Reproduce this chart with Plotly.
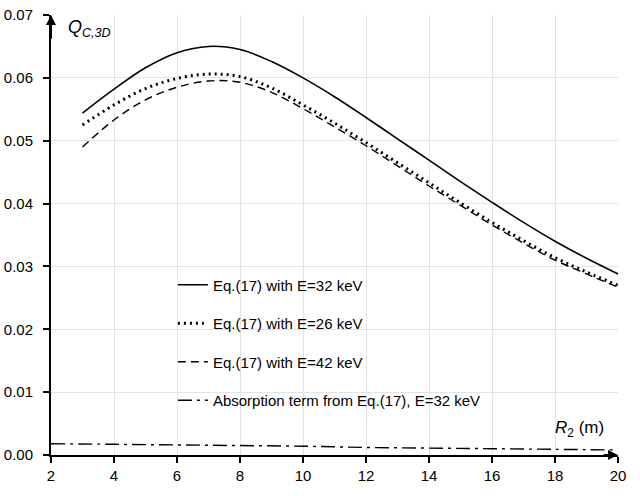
import plotly.graph_objects as go

x_main = [3, 4, 5, 6, 7, 8, 9, 10, 11, 12, 13, 14, 15, 16, 17, 18, 19, 20]
q_32 = [0.0544, 0.0582, 0.0616, 0.0640, 0.0650, 0.0645, 0.0626, 0.0600, 0.0570, 0.0537,
        0.0503, 0.0469, 0.0435, 0.0402, 0.0370, 0.0340, 0.0313, 0.0288]
q_26 = [0.0525, 0.0557, 0.0583, 0.0599, 0.0606, 0.0602, 0.0584, 0.0557, 0.0528, 0.0497,
        0.0465, 0.0433, 0.0401, 0.0370, 0.0341, 0.0314, 0.0291, 0.0270]
q_42 = [0.0490, 0.0533, 0.0565, 0.0585, 0.0595, 0.0593, 0.0577, 0.0551, 0.0522, 0.0492,
        0.0460, 0.0428, 0.0397, 0.0366, 0.0337, 0.0310, 0.0288, 0.0267]
x_abs = [2, 4, 6, 8, 10, 12, 14, 16, 18, 20]
q_abs = [0.0018, 0.0017, 0.0016, 0.0015, 0.0014, 0.0012, 0.0011, 0.0010, 0.0009, 0.0008]

names = ["Eq.(17) with E=32 keV", "Eq.(17) with E=26 keV",
         "Eq.(17) with E=42 keV", "Absorption term from Eq.(17), E=32 keV"]

fig = go.Figure()
fig.add_trace(go.Scatter(x=x_main, y=q_32, mode="lines", name=names[0], legendgroup="a",
                         line=dict(color="black", width=1.6, shape="spline")))
fig.add_trace(go.Scatter(x=x_main, y=q_26, mode="lines", name=names[1], legendgroup="b",
                         line=dict(color="black", width=3, shape="spline", dash="2px,4px")))
fig.add_trace(go.Scatter(x=x_main, y=q_42, mode="lines", name=names[2], legendgroup="c",
                         line=dict(color="black", width=1.4, shape="spline", dash="8px,5px")))
fig.add_trace(go.Scatter(x=x_abs, y=q_abs, mode="lines", name=names[3], legendgroup="d",
                         line=dict(color="black", width=1.4, shape="spline", dash="14px,5px,3px,5px")))

font_family = "Liberation Sans, Arial, sans-serif"

fig.update_layout(
    width=640, height=496,
    margin=dict(l=51, r=22, t=15, b=41),
    paper_bgcolor="white", plot_bgcolor="white",
    font=dict(family=font_family, size=15, color="black"),
    showlegend=True,
    legend=dict(x=0.215, y=0.424, xanchor="left", yanchor="top",
                bgcolor="rgba(0,0,0,0)", borderwidth=0,
                font=dict(size=15, family=font_family),
                tracegroupgap=16),
    xaxis=dict(range=[2, 20], tickmode="array", tickvals=list(range(2, 21, 2)),
               showgrid=True, gridcolor="#e3e3e3", gridwidth=1,
               showline=True, linecolor="black", linewidth=2,
               ticks="outside", ticklen=6, tickwidth=2, tickcolor="black",
               automargin=False,
               zeroline=False, tickfont=dict(size=15)),
    yaxis=dict(range=[0, 0.07], tickmode="array",
               tickvals=[0, 0.01, 0.02, 0.03, 0.04, 0.05, 0.06, 0.07],
               ticktext=["0.00", "0.01", "0.02", "0.03", "0.04", "0.05", "0.06", "0.07"],
               showgrid=True, gridcolor="#e3e3e3", gridwidth=1,
               showline=True, linecolor="black", linewidth=2,
               ticks="outside", ticklen=6, tickwidth=2, tickcolor="black",
               ticklabelstandoff=7, automargin=False,
               zeroline=False, tickfont=dict(size=15)),
)

# axis arrows
fig.add_annotation(x=2, y=0.07, ax=2, ay=0.066, xref="x", yref="y", axref="x", ayref="y",
                   showarrow=True, arrowhead=2, arrowsize=1, arrowwidth=2, arrowcolor="black", text="")
fig.add_annotation(x=20, y=0, ax=19.5, ay=0, xref="x", yref="y", axref="x", ayref="y",
                   showarrow=True, arrowhead=2, arrowsize=1, arrowwidth=2, arrowcolor="black", text="")

fig.add_annotation(x=0.026, y=0.999, xref="paper", yref="paper", xanchor="left", yanchor="top",
                   text="<i>Q</i><sub><i>C,3D</i></sub>", showarrow=False,
                   font=dict(size=18, family=font_family))
fig.add_annotation(x=0.978, y=0.06, xref="paper", yref="paper", xanchor="right", yanchor="middle",
                   text="<i>R</i><sub>2</sub> (m)", showarrow=False,
                   font=dict(size=17, family=font_family))

fig.write_html("out.html")
